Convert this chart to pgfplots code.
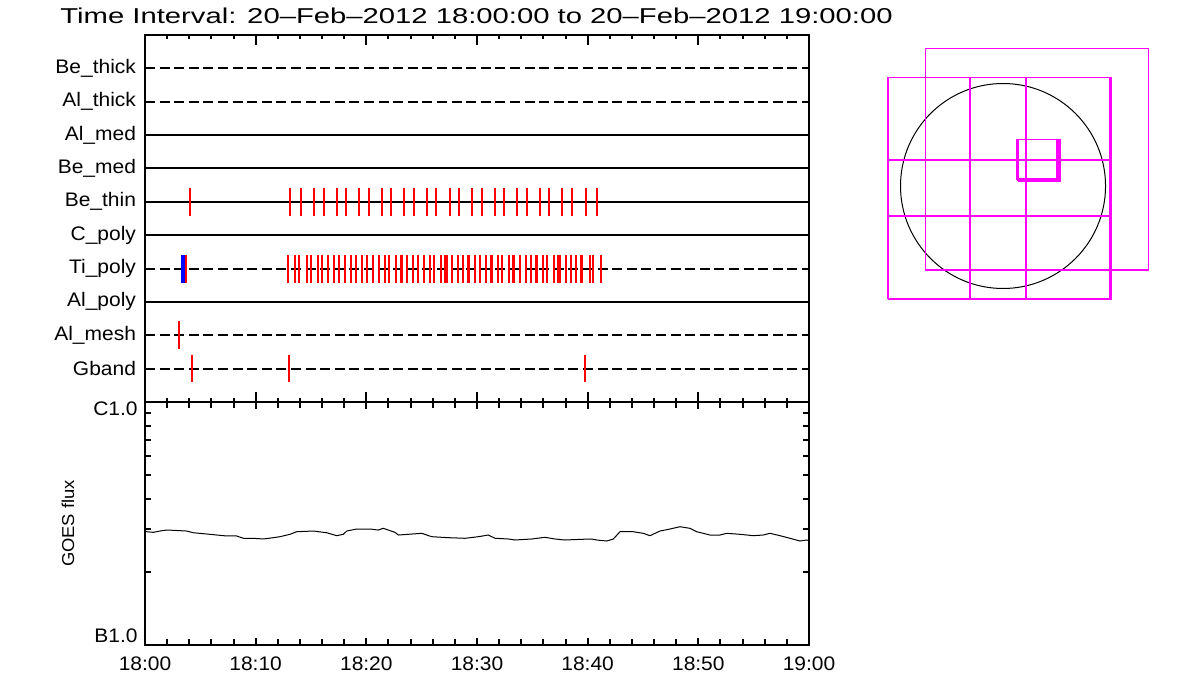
\documentclass[border=0pt]{standalone}
\usepackage{fontspec}
\setmainfont{Liberation Sans}[FakeStretch=1.07]
\newfontfamily\titlefont{Liberation Sans}[FakeStretch=1.36]
\usepackage{pgfplots}
\pgfplotsset{compat=1.18}
\definecolor{mag}{RGB}{255,0,255}
\definecolor{xred}{RGB}{255,0,0}
\definecolor{xblue}{RGB}{0,0,255}

\pgfplotstableread{
t f
0.00 2.926e-7
0.15 2.926e-7
0.75 2.909e-7
1.36 2.945e-7
1.96 2.973e-7
2.56 2.965e-7
3.77 2.945e-7
4.36 2.898e-7
5.58 2.863e-7
6.48 2.836e-7
7.38 2.810e-7
8.29 2.810e-7
8.88 2.749e-7
9.79 2.749e-7
10.69 2.731e-7
11.59 2.765e-7
12.20 2.791e-7
13.10 2.855e-7
13.71 2.926e-7
15.21 2.945e-7
16.42 2.898e-7
17.32 2.818e-7
17.92 2.855e-7
18.23 2.945e-7
19.13 3.002e-7
20.33 3.002e-7
21.08 2.973e-7
21.53 3.022e-7
21.98 2.973e-7
22.59 2.909e-7
22.89 2.836e-7
23.79 2.855e-7
25.00 2.882e-7
25.91 2.791e-7
27.41 2.765e-7
28.91 2.749e-7
30.12 2.791e-7
31.02 2.836e-7
31.63 2.749e-7
32.83 2.731e-7
33.43 2.705e-7
34.94 2.731e-7
36.14 2.775e-7
37.05 2.731e-7
37.95 2.705e-7
39.46 2.723e-7
40.36 2.731e-7
40.82 2.705e-7
41.72 2.679e-7
42.32 2.731e-7
42.92 2.926e-7
44.12 2.926e-7
45.02 2.882e-7
45.63 2.818e-7
46.53 2.945e-7
47.44 3.002e-7
48.34 3.068e-7
49.24 3.022e-7
49.85 2.926e-7
51.05 2.836e-7
51.95 2.836e-7
52.56 2.882e-7
53.76 2.855e-7
54.97 2.818e-7
55.87 2.836e-7
56.47 2.882e-7
57.38 2.818e-7
58.28 2.749e-7
59.19 2.679e-7
59.79 2.705e-7
60.00 2.690e-7
}\goesdata

\begin{document}
\begin{tikzpicture}[font=\fontsize{9.8pt}{11pt}\selectfont]
\path[use as bounding box] (0,0) rectangle (600pt,350pt);
\node[anchor=base west, inner sep=0pt, font=\titlefont\fontsize{10.75pt}{12pt}\selectfont] at (30pt,338pt) {Time Interval: 20–Feb–2012 18:00:00 to 20–Feb–2012 19:00:00};

% ---------------- top panel: filter timeline ----------------
\begin{axis}[
  at={(72.5pt,149pt)}, anchor=south west,
  scale only axis, width=332pt, height=183.5pt,
  xmin=0, xmax=60, ymin=0, ymax=11,
  axis line style={line width=1.1pt},
  xtick={0,10,...,60}, xticklabels={},
  minor x tick num=4,
  major tick length=5pt, minor tick length=2pt,
  every tick/.style={black, line width=1pt},
  ytick={1,...,10},
  yticklabels={Gband,Al\_mesh,Al\_poly,Ti\_poly,C\_poly,Be\_thin,Be\_med,Al\_med,Al\_thick,Be\_thick},
  ytick style={draw=none},
  yticklabel style={xshift=-1pt},
  tick label style={font=\fontsize{9.8pt}{11pt}\selectfont},
]
% row lines
\addplot[black, line width=1pt, dash pattern=on 5pt off 2.3pt] coordinates {(0,10)(60,10)};
\addplot[black, line width=1pt, dash pattern=on 5pt off 2.3pt] coordinates {(0,9)(60,9)};
\addplot[black, line width=1pt] coordinates {(0,8)(60,8)};
\addplot[black, line width=1pt] coordinates {(0,7)(60,7)};
\addplot[black, line width=1pt] coordinates {(0,6)(60,6)};
\addplot[black, line width=1pt] coordinates {(0,5)(60,5)};
\addplot[black, line width=1pt, dash pattern=on 5pt off 2.3pt] coordinates {(0,4)(60,4)};
\addplot[black, line width=1pt] coordinates {(0,3)(60,3)};
\addplot[black, line width=1pt, dash pattern=on 5pt off 2.3pt] coordinates {(0,2)(60,2)};
\addplot[black, line width=1pt, dash pattern=on 5pt off 2.3pt] coordinates {(0,1)(60,1)};
% Be_thin exposures
\addplot[only marks, color=xred, mark=|, mark size=7pt, mark options={solid, draw=xred, line width=1.1pt}] coordinates {(4.07,6)};
\addplot[only marks, color=xred, mark=|, mark size=7pt, mark options={solid, draw=xred, line width=1pt}] coordinates {
(13.13,6)(14.12,6)(15.30,6)(16.20,6)(17.38,6)(18.19,6)(19.36,6)(20.27,6)(21.44,6)(22.26,6)
(23.43,6)(24.33,6)(25.51,6)(26.32,6)(27.59,6)(28.40,6)(29.57,6)(30.48,6)(31.65,6)(32.47,6)
(33.64,6)(34.54,6)(35.72,6)(36.53,6)(37.71,6)(38.61,6)(39.88,6)(40.87,6)};
% Ti_poly exposures
\addplot[only marks, color=xblue, mark=|, mark size=7pt, mark options={solid, draw=xblue, line width=2pt}] coordinates {(3.43,4)};
\addplot[only marks, color=xred, mark=|, mark size=7pt, mark options={solid, draw=xred, line width=1pt}] coordinates {(3.69,4)};
\addplot[only marks, color=xred, mark=|, mark size=7pt, mark options={solid, draw=xred, line width=1pt}] coordinates {
(12.95,4)(13.58,4)(13.94,4)(14.61,4)(15.59,4)(16.02,4)(16.58,4)(17.57,4)(18.03,4)(18.57,4)
(19.64,4)(20.09,4)(20.63,4)(21.71,4)(22.07,4)(22.71,4)(23.09,4)(23.25,4)(23.70,4)(24.19,4)
(24.69,4)(25.78,4)(26.14,4)(26.79,4)(27.13,4)(27.29,4)(27.77,4)(28.26,4)(28.71,4)(29.85,4)
(30.30,4)(30.81,4)(31.92,4)(32.28,4)(32.92,4)(33.91,4)(34.40,4)(34.88,4)(35.99,4)(36.35,4)
(36.98,4)(37.34,4)(37.50,4)(38.01,4)(38.47,4)(38.92,4)(40.18,4)(40.51,4)(41.18,4)};
\addplot[only marks, color=xred, mark=|, mark size=7pt, mark options={solid, draw=xred, line width=1.3pt}] coordinates {
(15.00,4)(17.08,4)(19.07,4)(21.14,4)(25.21,4)(29.25,4)(31.33,4)(33.32,4)(35.39,4)(39.46,4)};
% Al_mesh
\addplot[only marks, color=xred, mark=|, mark size=7pt, mark options={solid, draw=xred, line width=1.1pt}] coordinates {(3.07,2)};
% Gband
\addplot[only marks, color=xred, mark=|, mark size=6.75pt, mark options={solid, draw=xred, line width=1pt}] coordinates {(4.27,1)(13.04,1)(39.79,1)};
\end{axis}

% ---------------- bottom panel: GOES flux ----------------
\begin{axis}[
  at={(72.5pt,27.5pt)}, anchor=south west,
  scale only axis, width=332pt, height=121.5pt,
  xmin=0, xmax=60, ymode=log, ymin=1e-7, ymax=1e-6,
  axis line style={line width=1.1pt},
  xtick={0,10,...,60},
  xticklabels={18:00,18:10,18:20,18:30,18:40,18:50,19:00},
  minor x tick num=4,
  ytick={1e-7,1e-6}, yticklabels={},
  minor ytick={2e-7,3e-7,4e-7,5e-7,6e-7,7e-7,8e-7,9e-7},
  major tick length=3.5pt, minor tick length=3pt,
  every tick/.style={black, line width=1pt},
  tick label style={font=\fontsize{9.8pt}{11pt}\selectfont},
  xticklabel style={yshift=-2.5pt},
  ylabel={GOES flux},
  ylabel style={at={(axis description cs:-0.116,0.5)}, anchor=center, font=\fontsize{8.6pt}{10pt}\selectfont},
  clip mode=individual,
]
\addplot[black, line width=0.5pt] table[x=t, y=f] {\goesdata};
\node[anchor=east, inner sep=0pt, xshift=-3.5pt, yshift=-3.5pt] at (rel axis cs:0,1) {C1.0};
\node[anchor=east, inner sep=0pt, xshift=-3.5pt, yshift=4.5pt] at (rel axis cs:0,0) {B1.0};
\end{axis}

% ---------------- right panel: pointing map ----------------
\begin{axis}[
  at={(440pt,195pt)}, anchor=south west,
  scale only axis, width=140pt, height=135pt,
  xmin=-1170, xmax=1493, ymin=-1179.5, ymax=1389,
  axis lines=none, clip=false,
]
\draw[black, line width=0.5pt] (axis cs:0,0) circle [radius=975];
\addplot[mag, line width=0.6pt, line cap=rect] coordinates {(-739,-799)(1382,-799)(1382,1310)(-739,1310)(-739,-799)};
\addplot[mag, line width=0.6pt, line cap=rect] coordinates {(-1100,-1068)(1011,-1068)(1011,1034)(-1100,1034)(-1100,-1068)};
\addplot[mag, line width=0.6pt, line cap=rect] coordinates {(-1091,-1078)(1027,-1078)(1027,1034)(-1091,1034)(-1091,-1078)};
\addplot[mag, line width=0.6pt] coordinates {(-314,1034)(-314,-1078)};
\addplot[mag, line width=0.6pt] coordinates {(219,1034)(219,-1078)};
\addplot[mag, line width=0.6pt] coordinates {(-1100,247)(1011,247)};
\addplot[mag, line width=0.6pt] coordinates {(-1100,-285)(1011,-285)};
\addplot[mag, line width=0.8pt, line cap=rect] coordinates {(130,64)(511,64)(511,444)(130,444)(130,64)};
\addplot[mag, line width=0.8pt, line cap=rect] coordinates {(149,50)(542,50)(542,444)(149,444)(149,50)};
\addplot[mag, line width=0.8pt, line cap=rect] coordinates {(140,57)(527,57)(527,444)(140,444)(140,57)};
\end{axis}
\end{tikzpicture}
\end{document}
